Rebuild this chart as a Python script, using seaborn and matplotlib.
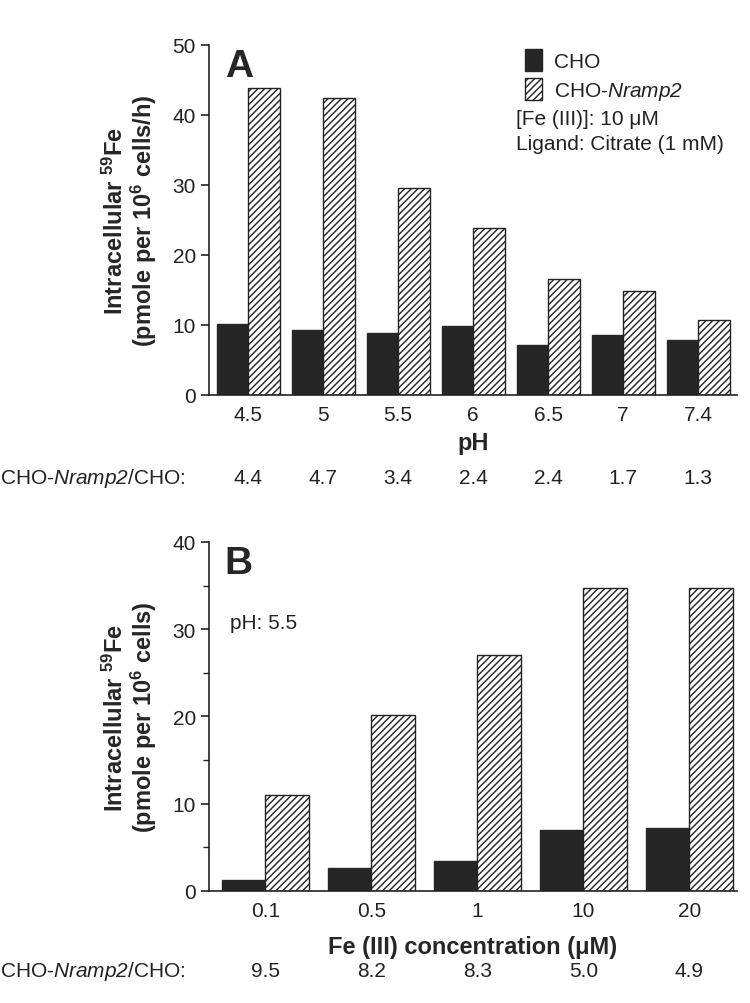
import matplotlib
matplotlib.use("Agg")
import matplotlib.pyplot as plt
import matplotlib.transforms as mtransforms
from matplotlib.ticker import MultipleLocator
import seaborn as sns
import pandas as pd

# ---- data ----
ph_labels = ["4.5", "5", "5.5", "6", "6.5", "7", "7.4"]
cho_a = [10.1, 9.3, 8.8, 9.8, 7.1, 8.6, 7.8]
nramp_a = [43.9, 42.4, 29.5, 23.8, 16.6, 14.8, 10.7]
ratio_a = ["4.4", "4.7", "3.4", "2.4", "2.4", "1.7", "1.3"]

fe_labels = ["0.1", "0.5", "1", "10", "20"]
cho_b = [1.2, 2.6, 3.4, 7.0, 7.2]
nramp_b = [11.0, 20.2, 27.0, 34.7, 34.7]
ratio_b = ["9.5", "8.2", "8.3", "5.0", "4.9"]

groups = ["CHO", "CHO-Nramp2"]

sns.set_theme(style="ticks")
plt.rcParams["font.family"] = ["Liberation Sans", "DejaVu Sans"]
plt.rcParams["mathtext.fontset"] = "custom"
plt.rcParams["mathtext.rm"] = "Liberation Sans"
plt.rcParams["mathtext.it"] = "Liberation Sans:italic"
plt.rcParams["mathtext.sf"] = "Liberation Sans:italic"
plt.rcParams["mathtext.bf"] = "Liberation Sans:bold"
plt.rcParams["hatch.linewidth"] = 1.0
plt.rcParams["hatch.color"] = "#222222"

NR = "CHO-$\\mathsf{Nramp2}$"
FS = 15

fig = plt.figure(figsize=(7.5, 10.04), dpi=100)
axA = fig.add_axes([0.2787, 0.6056, 0.704, 0.3486])
axB = fig.add_axes([0.2787, 0.1116, 0.704, 0.3476])

def make_df(cats, a, b):
    return pd.DataFrame({
        "cat": list(cats) * 2,
        "val": list(a) + list(b),
        "grp": [groups[0]] * len(cats) + [groups[1]] * len(cats),
    })

def draw(ax, cats, a, b, width):
    df = make_df(cats, a, b)
    sns.barplot(data=df, x="cat", y="val", hue="grp", order=cats, hue_order=groups,
                palette=["#262626", "white"], width=width, gap=0,
                edgecolor="#222222", linewidth=1.0, ax=ax, legend=False)
    for p in ax.containers[1]:
        p.set_hatch("/////")
        p.set_edgecolor("#222222")
    for p in ax.containers[0]:
        p.set_edgecolor("#262626")
    sns.despine(ax=ax)
    for s in ("left", "bottom"):
        ax.spines[s].set_linewidth(1.2)
        ax.spines[s].set_color("#222222")
    ax.tick_params(axis="x", length=0, labelsize=FS, pad=7, colors="#222222")
    ax.tick_params(axis="y", length=6, width=1.2, labelsize=FS, colors="#222222")
    ax.set_xlabel("")
    ax.set_ylabel("")

YL_FONT = dict(fontsize=17, fontweight="bold", linespacing=1.0, labelpad=10)

draw(axA, ph_labels, cho_a, nramp_a, 0.84)
axA.set_ylim(0, 50)
axA.set_yticks([0, 10, 20, 30, 40, 50])
axA.set_xlim(-0.52, 6.52)
axA.set_ylabel("Intracellular $^{\\mathbf{59}}$Fe\n(pmole per 10$^{\\mathbf{6}}$ cells/h)", **YL_FONT)
axA.set_xlabel("pH", fontsize=17, fontweight="bold", labelpad=5)
axA.text(0.03, 0.99, "A", transform=axA.transAxes, fontsize=28, fontweight="bold",
         va="top", ha="left")
leg = axA.legend(handles=[axA.containers[0][0], axA.containers[1][0]],
                 labels=["CHO", NR], loc="upper left",
                 bbox_to_anchor=(0.575, 1.025), frameon=False, fontsize=FS,
                 handlelength=0.8, handleheight=1.3, handletextpad=0.6,
                 labelspacing=0.3, borderaxespad=0.2)
for t in leg.get_texts():
    t.set_color("#222222")
axA.text(0.582, 0.818, "[Fe (III)]: 10 μM", transform=axA.transAxes, fontsize=FS,
         va="top", ha="left", color="#222222")
axA.text(0.582, 0.746, "Ligand: Citrate (1 mM)", transform=axA.transAxes, fontsize=FS,
         va="top", ha="left", color="#222222")

draw(axB, fe_labels, cho_b, nramp_b, 0.82)
axB.set_ylim(0, 40)
axB.set_yticks([0, 10, 20, 30, 40])
axB.yaxis.set_minor_locator(MultipleLocator(5))
axB.tick_params(axis="y", which="minor", length=4, width=1.0, colors="#222222")
axB.set_xlim(-0.53, 4.45)
axB.set_ylabel("Intracellular $^{\\mathbf{59}}$Fe\n(pmole per 10$^{\\mathbf{6}}$ cells)", **YL_FONT)
axB.set_xlabel("Fe (III) concentration (μM)", fontsize=17, fontweight="bold", labelpad=11)
axB.text(0.03, 0.99, "B", transform=axB.transAxes, fontsize=28, fontweight="bold",
         va="top", ha="left")
axB.text(0.04, 0.77, "pH: 5.5", transform=axB.transAxes, fontsize=FS, va="center",
         ha="left", color="#222222")

# ratio rows
def ratio_row(ax, values, y_fig):
    trans = mtransforms.blended_transform_factory(ax.transData, fig.transFigure)
    for i, v in enumerate(values):
        ax.text(i, y_fig, v, transform=trans, ha="center", va="center", fontsize=FS,
                color="#222222")
    fig.text(0.0, y_fig, NR + "/CHO:", ha="left", va="center", fontsize=FS,
             color="#222222")

ratio_row(axA, ratio_a, 1 - 478 / 1004)
ratio_row(axB, ratio_b, 1 - 972 / 1004)

fig.savefig("out.png", dpi=100, facecolor="white")
